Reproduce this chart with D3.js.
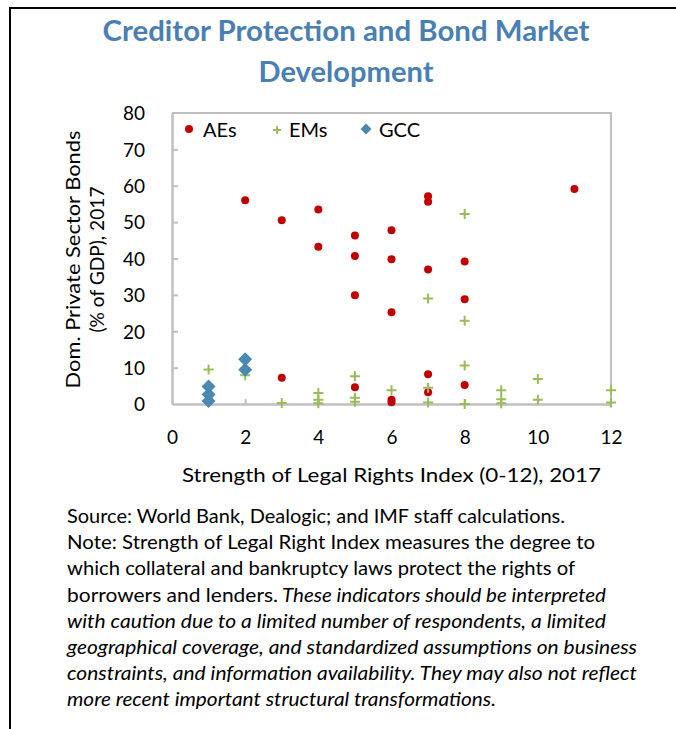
<!DOCTYPE html>
<html><head><meta charset="utf-8">
<script src="https://cdn.jsdelivr.net/npm/d3@7"></script>
<style>
body{margin:0;background:#fff;}
svg{display:block;}
text{font-family:Lato,"Open Sans",sans-serif;}
</style>
</head><body>
<svg id="c" width="676" height="729"></svg>
<script>
// ---------- data ----------
const titleLines = ["Creditor Protection and Bond Market", "Development"];
const seriesNames = ["AEs", "EMs", "GCC"];
const xTicks = [0, 2, 4, 6, 8, 10, 12];
const yTicks = [0, 10, 20, 30, 40, 50, 60, 70, 80];
const xTitle = "Strength of Legal Rights Index (0-12), 2017";
const yTitle = ["Dom. Private Sector Bonds", "(% of GDP), 2017"];

const aeX = [2, 3, 3, 4, 4, 5, 5, 5, 5, 6, 6, 6, 6, 6, 7, 7, 7, 7, 7, 8, 8, 8, 11];
const aeY = [56.0, 50.5, 7.2, 53.5, 43.2, 46.3, 40.7, 29.9, 4.6, 47.8, 39.8, 25.2, 1.2, 0.5, 57.1, 55.6, 37.0, 8.2, 3.2, 39.2, 28.8, 5.2, 59.1];

const emX = [1, 2, 3, 4, 4, 4, 5, 5, 5, 6, 7, 7, 7, 8, 8, 8, 8, 9, 9, 9, 10, 10, 12, 12];
const emY = [9.5, 7.9, 0.3, 3.0, 1.2, 0.2, 7.6, 1.7, 0.6, 3.8, 29.0, 4.5, 0.4, 52.2, 22.9, 10.6, 0.0, 3.8, 1.3, 0.2, 6.9, 1.2, 3.8, 0.4];

const gccX = [1, 1, 1, 2, 2];
const gccY = [4.8, 2.6, 0.8, 12.3, 9.4];

const noteLines = [
  [{t:"Source: World Bank, Dealogic; and IMF staff calculations.", i:false}],
  [{t:"Note: Strength of Legal Right Index measures the degree to", i:false}],
  [{t:"which collateral and bankruptcy laws protect the rights of", i:false}],
  [{t:"borrowers and lenders.", i:false}, {t:"These indicators should be interpreted", i:true}],
  [{t:"with caution due to a limited number of respondents, a limited", i:true}],
  [{t:"geographical coverage, and standardized assumptions on business", i:true}],
  [{t:"constraints, and information availability. They may also not reflect", i:true}],
  [{t:"more recent important structural transformations.", i:true}]
];

// ---------- layout ----------
const W = 676, H = 729;
const plot = {l: 172, r: 611, t: 113, b: 404};
const AE_COL = "#c00000", EM_COL = "#9bbb59", GCC_COL = "#4a89b0";
const AXIS_COL = "#bfbfbf";
const titleLayout = [{cx: 346, y: 41, w: 487}, {cx: 346, y: 82, w: 175}];
const noteBase = [523, 549, 575, 602, 628, 654, 680, 706];
const noteSegW = [[498], [528], [508], [211, 324], [539], [570], [570], [429]];
const noteSegX = [[67], [67], [67], [67, 282], [67], [67], [67], [67]];
const yTitleLen = [258, 146];

const svg = d3.select("#c");
svg.append("rect").attr("width", W).attr("height", H).attr("fill", "#fff");

// outer frame (top + left)
svg.append("line").attr("x1", 10).attr("x2", 676).attr("y1", 8).attr("y2", 8)
  .attr("stroke", "#000").attr("stroke-width", 2);
svg.append("line").attr("x1", 10).attr("x2", 10).attr("y1", 7).attr("y2", H)
  .attr("stroke", "#000").attr("stroke-width", 2);

// title
titleLines.forEach((t, k) => {
  svg.append("text").attr("x", titleLayout[k].cx).attr("y", titleLayout[k].y)
    .attr("text-anchor", "middle").attr("font-size", 28).attr("font-weight", 700)
    .attr("fill", "#4a7fb3")
    .attr("textLength", titleLayout[k].w).attr("lengthAdjust", "spacingAndGlyphs")
    .text(t);
});

const x = d3.scaleLinear().domain([0, 12]).range([plot.l, plot.r]);
const y = d3.scaleLinear().domain([0, 80]).range([plot.b, plot.t]);

// plot border (top, right)
svg.append("path")
  .attr("d", `M${plot.l},${plot.t}H${plot.r}V${plot.b}`)
  .attr("fill", "none").attr("stroke", AXIS_COL).attr("stroke-width", 2);

// axes
const yAxis = d3.axisLeft(y).tickValues(yTicks).tickSize(-6).tickPadding(27).tickSizeOuter(0);
const gy = svg.append("g").attr("transform", `translate(${plot.l},0)`).call(yAxis);
gy.select(".domain").attr("stroke", AXIS_COL).attr("stroke-width", 2.5);
gy.selectAll(".tick line").attr("stroke", AXIS_COL).attr("stroke-width", 2);
gy.selectAll(".tick text").attr("font-size", 19).attr("fill", "#000")
  .attr("font-family", "Lato, sans-serif").attr("dy", "0.36em");
gy.selectAll(".tick").filter(d => d === 0 || d === 80).select("line").remove();

const xAxis = d3.axisBottom(x).tickValues(xTicks).tickSize(-5).tickPadding(26).tickSizeOuter(0);
const gx = svg.append("g").attr("transform", `translate(0,${plot.b})`).call(xAxis);
gx.select(".domain").attr("stroke", AXIS_COL).attr("stroke-width", 2.5);
gx.selectAll(".tick line").attr("stroke", AXIS_COL).attr("stroke-width", 2);
gx.selectAll(".tick text").attr("font-size", 19).attr("fill", "#000")
  .attr("font-family", "Lato, sans-serif").attr("dy", "0.74em");
gx.selectAll(".tick").filter(d => d === 0 || d === 12).select("line").remove();

// axis titles
svg.append("text").attr("x", (plot.l + plot.r) / 2).attr("y", 482)
  .attr("text-anchor", "middle").attr("font-size", 20).attr("fill", "#000")
  .attr("textLength", 419).attr("lengthAdjust", "spacingAndGlyphs")
  .text(xTitle);
const yMid = (plot.t + plot.b) / 2 + 1;
yTitle.forEach((t, k) => {
  svg.append("text")
    .attr("transform", `translate(${80 + k * 24},${yMid}) rotate(-90)`)
    .attr("text-anchor", "middle").attr("font-size", 20).attr("fill", "#000")
    .attr("textLength", yTitleLen[k]).attr("lengthAdjust", "spacingAndGlyphs")
    .text(t);
});

// series
const ae = aeX.map((v, i) => [v, aeY[i]]);
const em = emX.map((v, i) => [v, emY[i]]);
const gcc = gccX.map((v, i) => [v, gccY[i]]);

svg.append("g").selectAll("circle").data(ae).join("circle")
  .attr("cx", d => x(d[0])).attr("cy", d => y(d[1])).attr("r", 4)
  .attr("fill", AE_COL);

svg.append("g").selectAll("path").data(em).join("path")
  .attr("transform", d => `translate(${x(d[0])},${y(d[1])})`)
  .attr("d", "M-5,0H5M0,-5V5")
  .attr("stroke", EM_COL).attr("stroke-width", 2).attr("fill", "none");

svg.append("g").selectAll("path").data(gcc).join("path")
  .attr("transform", d => `translate(${x(d[0])},${y(d[1])})`)
  .attr("d", "M0,-7L7,0L0,7L-7,0Z")
  .attr("fill", GCC_COL);

// legend
const legY = 130;
const legItems = [
  {mx: 189, tx: 203},
  {mx: 277, tx: 289},
  {mx: 366, tx: 379}
];
const lg = svg.append("g");
lg.append("circle").attr("cx", legItems[0].mx).attr("cy", legY - 1).attr("r", 4).attr("fill", AE_COL);
lg.append("path").attr("transform", `translate(${legItems[1].mx},${legY})`)
  .attr("d", "M-4,0H4M0,-4V4").attr("stroke", EM_COL).attr("stroke-width", 1.8);
lg.append("path").attr("transform", `translate(${legItems[2].mx},${legY - 1})`)
  .attr("d", "M0,-5.5L5.5,0L0,5.5L-5.5,0Z").attr("fill", GCC_COL);
seriesNames.forEach((n, k) => {
  lg.append("text").attr("x", legItems[k].tx).attr("y", legY + 7)
    .attr("font-size", 20).attr("fill", "#000").text(n);
});

// notes
noteLines.forEach((segs, k) => {
  segs.forEach((s, j) => {
    svg.append("text").attr("x", noteSegX[k][j]).attr("y", noteBase[k])
      .attr("font-size", 19).attr("fill", "#000")
      .attr("font-style", s.i ? "italic" : "normal")
      .attr("textLength", noteSegW[k][j]).attr("lengthAdjust", "spacingAndGlyphs")
      .text(s.t);
  });
});
</script>
</body></html>
